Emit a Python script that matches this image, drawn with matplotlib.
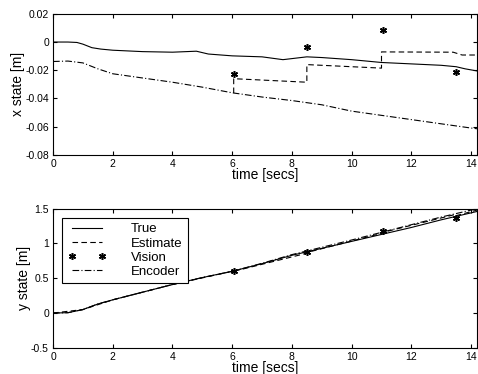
import matplotlib.pyplot as plt
import numpy as np

plt.rcParams['font.family'] = ['Liberation Sans', 'DejaVu Sans']
plt.rcParams['axes.unicode_minus'] = False

# top panel: x state
t_true = [0, 0.5, 0.8, 1.0, 1.3, 1.6, 2, 3, 4, 4.8, 5.2, 6, 7, 7.7, 8.5, 9, 10, 11, 12, 13, 13.5, 13.8, 14.2]
x_true = [0, 0, -0.0003, -0.0015, -0.004, -0.005, -0.0058, -0.0068, -0.0072, -0.0065, -0.0085, -0.0098,
          -0.0105, -0.0125, -0.0105, -0.011, -0.0125, -0.0145, -0.0155, -0.0165, -0.0175, -0.019, -0.0205]

t_enc = [0, 0.5, 1, 1.5, 2, 3, 4, 5, 6, 7, 8, 9, 10, 11, 12, 13, 14, 14.2]
x_enc = [-0.0138, -0.0135, -0.0148, -0.019, -0.0225, -0.0255, -0.0285, -0.032, -0.036, -0.039,
         -0.0415, -0.0445, -0.049, -0.052, -0.055, -0.058, -0.061, -0.0615]

t_est = [6.05, 6.05, 8.5, 8.5, 11.0, 11.0, 13.4, 13.7, 14.2]
x_est = [-0.0362, -0.026, -0.0285, -0.016, -0.0185, -0.007, -0.0072, -0.0092, -0.0092]

t_vis = [6.05, 8.5, 11.05, 13.5]
x_vis = [-0.0225, -0.0035, 0.0087, -0.0215]

# bottom panel: y state
y_true = [0, 0.005, 0.05, 0.13, 0.19, 0.3, 0.41, 0.51, 0.6, 0.71, 0.83, 0.93, 1.03, 1.13, 1.23, 1.34, 1.44, 1.46]
y_enc = [0, 0.005, 0.05, 0.13, 0.19, 0.3, 0.41, 0.51, 0.6, 0.715, 0.84, 0.945, 1.05, 1.16, 1.27, 1.38, 1.48, 1.5]
t_est_y = [0, 1, 2, 4, 6.05, 6.05, 8.5, 8.5, 11.05, 11.05, 13.5, 13.5, 14.2]
y_est = [0, 0.05, 0.19, 0.41, 0.605, 0.6, 0.86, 0.87, 1.15, 1.16, 1.42, 1.4, 1.48]
y_vis = [0.6, 0.88, 1.18, 1.37]

fig = plt.figure(figsize=(4.78, 3.74), dpi=100)
ax1 = fig.add_axes([0.111, 0.586, 0.887, 0.377])
ax2 = fig.add_axes([0.111, 0.07, 0.887, 0.372])

lw = 0.8
star = dict(marker=(6, 2, 0), ms=5, mew=1.1, ls='none', color='k')
for ax in (ax1, ax2):
    ax.tick_params(direction='in', top=True, right=True, labelsize=7.5, length=3, pad=3)
    ax.set_xlim(0, 14.2)
    ax.set_xticks(np.arange(0, 15, 2))
    ax.set_xlabel('time [secs]', fontsize=10, labelpad=-1)

ax1.plot(t_true, x_true, 'k-', lw=lw)
ax1.plot(t_est, x_est, 'k--', lw=lw, dashes=(5, 3))
ax1.plot(t_vis, x_vis, **star)
ax1.plot(t_enc, x_enc, 'k-.', lw=lw, dashes=(6, 2, 1, 2))
ax1.set_ylim(-0.08, 0.02)
ax1.set_yticks([-0.08, -0.06, -0.04, -0.02, 0, 0.02])
ax1.set_yticklabels(['-0.08', '-0.06', '-0.04', '-0.02', '0', '0.02'])
ax1.set_ylabel('x state [m]', fontsize=10, labelpad=0)

ax2.plot(t_enc, y_true, 'k-', lw=lw, label='True')
ax2.plot(t_est_y, y_est, 'k--', lw=lw, dashes=(5, 3), label='Estimate')
ax2.plot(t_vis, y_vis, label='Vision', **star)
ax2.plot(t_enc, y_enc, 'k-.', lw=lw, dashes=(6, 2, 1, 2), label='Encoder')
ax2.set_ylim(-0.5, 1.5)
ax2.set_yticks([-0.5, 0, 0.5, 1, 1.5])
ax2.set_yticklabels(['-0.5', '0', '0.5', '1', '1.5'])
ax2.set_ylabel('y state [m]', fontsize=10, labelpad=0)
leg = ax2.legend(loc='upper left', numpoints=2, fontsize=9.5, handlelength=2.9,
                 handletextpad=1.9, labelspacing=0.15, borderaxespad=0.7,
                 borderpad=0.4, fancybox=False, edgecolor='k', framealpha=1)
leg.get_frame().set_linewidth(0.8)

plt.savefig('out.png', dpi=100)
